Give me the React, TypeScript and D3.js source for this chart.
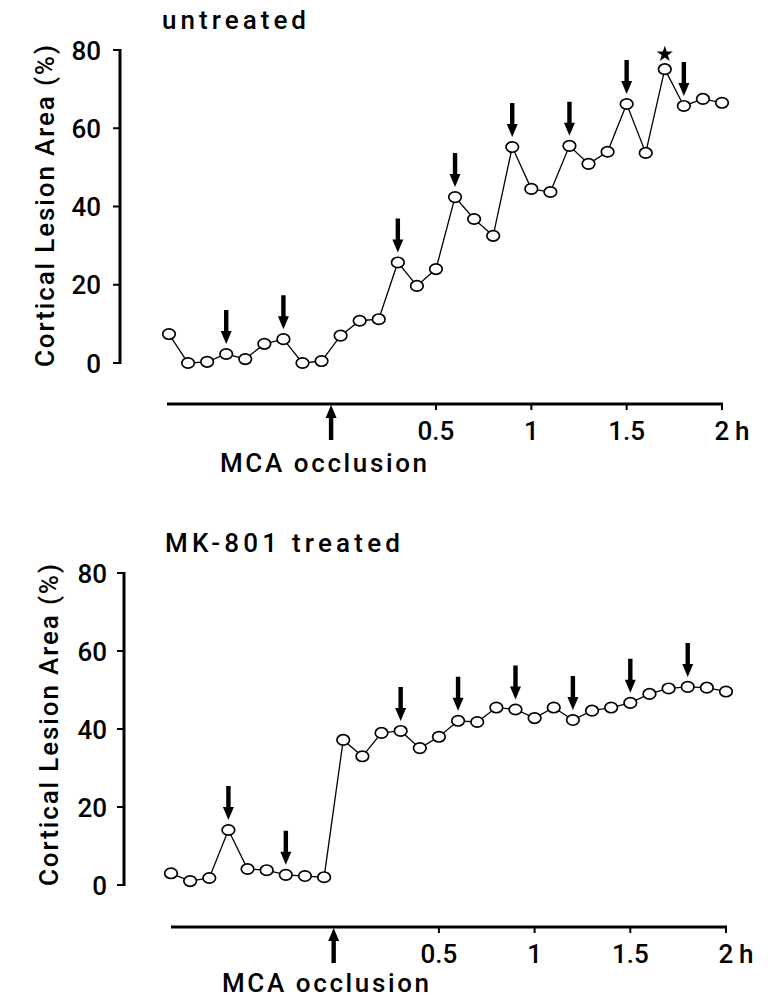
import React from "react";
import * as d3 from "d3";

// ---- data ----
const times = [-0.9, -0.8, -0.7, -0.6, -0.5, -0.4, -0.3, -0.2, -0.1, 0.0, 0.1, 0.2, 0.3, 0.4, 0.5, 0.6, 0.7, 0.8, 0.9, 1.0, 1.1, 1.2, 1.3, 1.4, 1.5, 1.6, 1.7, 1.8, 1.9, 2.0];
const untreated = [7.4, 0, 0.3, 2.3, 1, 4.9, 6.1, 0, 0.5, 7, 10.8, 11.2, 25.7, 19.7, 24, 42.4, 36.8, 32.5, 55.2, 44.5, 43.7, 55.5, 50.9, 54, 66.2, 53.7, 75.1, 65.7, 67.5, 66.5];
const mk801 = [3.0, 1.0, 1.8, 14.1, 4.1, 3.8, 2.6, 2.3, 2.0, 37.2, 33.0, 39.0, 39.5, 35.1, 38.0, 42.1, 41.8, 45.5, 45.0, 42.8, 45.5, 42.3, 44.7, 45.5, 46.7, 49.0, 50.4, 50.8, 50.6, 49.6];
const untreatedArrows = [-0.6, -0.3, 0.3, 0.6, 0.9, 1.2, 1.5, 1.8];
const mk801Arrows = [-0.6, -0.3, 0.3, 0.6, 0.9, 1.2, 1.5, 1.8];
const untreatedStars = [1.7];
const mk801Stars: number[] = [];
const yTicks = [0, 20, 40, 60, 80];
const xTicks = [0.5, 1, 1.5, 2];
const occlusionTime = -0.05;
const titles = ["untreated", "MK-801 treated"];
const yLabel = "Cortical Lesion Area (%)";
const xLabel = "MCA occlusion";
const unitLabel = "h";

const FONT = "Roboto, 'DejaVu Sans', sans-serif";
const FS = 26;
const FW = 500;

type PanelProps = {
  title: string;
  values: number[];
  arrows: number[];
  stars: number[];
  L: {
    titleX: number; titleY: number; titleLen: number;
    axisX: number; y0: number; y80: number;
    x0: number; x1: number; xAxisY: number; xAxisLeft: number;
    tickLabelRight: number;
    yLabelX: number; yLabelMid: number;
    xLabelX: number; xLabelY: number;
  };
};

function Panel({ title, values, arrows, stars, L }: PanelProps) {
  const x = d3.scaleLinear().domain([-0.9, 2.0]).range([L.x0, L.x1]);
  const y = d3.scaleLinear().domain([0, 80]).range([L.y0, L.y80]);
  const line = d3.line<number>().x((_, i) => x(times[i])).y((d) => y(d));
  const valAt = (t: number) => values[times.findIndex((tt) => Math.abs(tt - t) < 1e-6)];
  const star = d3.symbol().type(d3.symbolStar).size(80)();
  const xEnd = x(2.0);
  const txt = { fontSize: FS, fontFamily: FONT, fontWeight: FW } as const;
  return (
    <g>
      <text x={L.titleX} y={L.titleY} {...txt} textLength={L.titleLen} lengthAdjust="spacing">{title}</text>
      {/* y axis */}
      <line x1={L.axisX} x2={L.axisX} y1={y(80) - 1} y2={y(0) + 1} stroke="#000" strokeWidth={3} />
      {yTicks.map((t) => (
        <g key={t}>
          <line x1={L.axisX - 7} x2={L.axisX} y1={y(t)} y2={y(t)} stroke="#000" strokeWidth={2} />
          <text x={L.tickLabelRight} y={y(t) + 9.5} {...txt} textAnchor="end">{t}</text>
        </g>
      ))}
      <text transform={`translate(${L.yLabelX},${L.yLabelMid}) rotate(-90)`} {...txt} textAnchor="middle" textLength={322} lengthAdjust="spacing">{yLabel}</text>
      {/* x axis */}
      <line x1={L.xAxisLeft} x2={xEnd + 1} y1={L.xAxisY} y2={L.xAxisY} stroke="#000" strokeWidth={3} />
      {xTicks.map((t) => (
        <g key={t}>
          <line x1={x(t)} x2={x(t)} y1={L.xAxisY} y2={L.xAxisY + 6} stroke="#000" strokeWidth={2} />
          <text x={x(t)} y={L.xAxisY + 36} {...txt} textAnchor="middle">{d3.format("")(t)}</text>
        </g>
      ))}
      <text x={xEnd + 13} y={L.xAxisY + 36} {...txt}>{unitLabel}</text>
      {/* occlusion arrow */}
      <g transform={`translate(${x(occlusionTime)},${L.xAxisY + 1})`}>
        <path d="M0,0 L-5.5,13 L-2.2,13 L-2.2,35 L2.2,35 L2.2,13 L5.5,13 Z" fill="#000" />
      </g>
      <text x={L.xLabelX} y={L.xLabelY} {...txt} textLength={207} lengthAdjust="spacing">{xLabel}</text>
      {/* data */}
      <path d={line(values) || ""} fill="none" stroke="#000" strokeWidth={1.3} />
      {values.map((v, i) => (
        <ellipse key={i} cx={x(times[i])} cy={y(v)} rx={6.3} ry={5.2} fill="#fff" stroke="#000" strokeWidth={1.7} />
      ))}
      {arrows.map((t) => (
        <g key={t} transform={`translate(${x(t)},${y(valAt(t)) - 10})`}>
          <path d="M0,0 L-5.5,-13 L-2.2,-13 L-2.2,-34 L2.2,-34 L2.2,-13 L5.5,-13 Z" fill="#000" />
        </g>
      ))}
      {stars.map((t) => (
        <path key={t} d={star || ""} transform={`translate(${x(t)},${y(valAt(t)) - 15})`} fill="#000" />
      ))}
    </g>
  );
}

export default function App() {
  return (
    <svg width={771} height={998} style={{ position: "absolute", left: 0, top: 0, background: "#fff" }}>
      <rect width={771} height={998} fill="#fff" />
      <Panel
        title={titles[0]}
        values={untreated}
        arrows={untreatedArrows}
        stars={untreatedStars}
        L={{
          titleX: 162, titleY: 29, titleLen: 144,
          axisX: 120, y0: 363, y80: 50,
          x0: 169, x1: 722, xAxisY: 404, xAxisLeft: 167,
          tickLabelRight: 101,
          yLabelX: 54, yLabelMid: 206,
          xLabelX: 220, xLabelY: 472,
        }}
      />
      <Panel
        title={titles[1]}
        values={mk801}
        arrows={mk801Arrows}
        stars={mk801Stars}
        L={{
          titleX: 165, titleY: 552, titleLen: 235,
          axisX: 124, y0: 885, y80: 573,
          x0: 171, x1: 726, xAxisY: 927, xAxisLeft: 171,
          tickLabelRight: 107,
          yLabelX: 58, yLabelMid: 725,
          xLabelX: 222, xLabelY: 992,
        }}
      />
    </svg>
  );
}
